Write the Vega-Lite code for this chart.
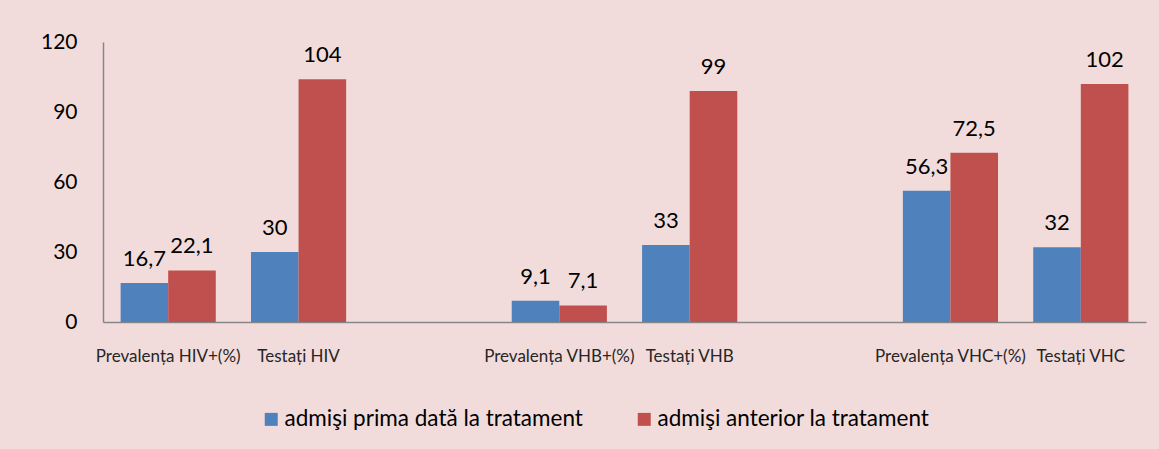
{
  "$schema": "https://vega.github.io/schema/vega-lite/v6.json",
  "width": 1043,
  "height": 280,
  "autosize": "none",
  "padding": {"left": 103, "top": 42, "right": 13, "bottom": 127},
  "background": "#f2dcdb",
  "config": {
    "view": {"stroke": null},
    "font": "Lato",
    "locale": {"number": {"decimal": ",", "thousands": ".", "grouping": [3], "currency": ["", " lei"]}}
  },
  "data": {
    "values": [
      {"cat": "Prevalența HIV+(%)", "series": "admişi prima dată la tratament", "value": 16.7},
      {"cat": "Prevalența HIV+(%)", "series": "admişi anterior la tratament", "value": 22.1},
      {"cat": "Testați HIV", "series": "admişi prima dată la tratament", "value": 30},
      {"cat": "Testați HIV", "series": "admişi anterior la tratament", "value": 104},
      {"cat": "Prevalența VHB+(%)", "series": "admişi prima dată la tratament", "value": 9.1},
      {"cat": "Prevalența VHB+(%)", "series": "admişi anterior la tratament", "value": 7.1},
      {"cat": "Testați VHB", "series": "admişi prima dată la tratament", "value": 33},
      {"cat": "Testați VHB", "series": "admişi anterior la tratament", "value": 99},
      {"cat": "Prevalența VHC+(%)", "series": "admişi prima dată la tratament", "value": 56.3},
      {"cat": "Prevalența VHC+(%)", "series": "admişi anterior la tratament", "value": 72.5},
      {"cat": "Testați VHC", "series": "admişi prima dată la tratament", "value": 32},
      {"cat": "Testați VHC", "series": "admişi anterior la tratament", "value": 102}
    ]
  },
  "encoding": {
    "x": {
      "field": "cat",
      "type": "nominal",
      "scale": {
        "domain": ["Prevalența HIV+(%)", "Testați HIV", "gap1", "Prevalența VHB+(%)", "Testați VHB", "gap2", "Prevalența VHC+(%)", "Testați VHC"],
        "paddingInner": 0.27,
        "paddingOuter": 0.135
      },
      "axis": {
        "title": null,
        "labelExpr": "indexof(['gap1','gap2'], datum.value) >= 0 ? '' : datum.value",
        "labelAngle": 0,
        "labelFontSize": 17,
        "labelColor": "#262626",
        "labelPadding": 26,
        "labelLimit": 300,
        "ticks": false,
        "domainColor": "#868686",
        "domainWidth": 1.5
      }
    },
    "xOffset": {
      "field": "series",
      "type": "nominal",
      "sort": ["admişi prima dată la tratament", "admişi anterior la tratament"],
      "scale": {"paddingInner": 0, "paddingOuter": 0}
    },
    "y": {
      "field": "value",
      "type": "quantitative",
      "scale": {"domain": [0, 120]},
      "axis": {
        "title": null,
        "values": [0, 30, 60, 90, 120],
        "grid": false,
        "ticks": false,
        "labelFontSize": 21,
        "labelColor": "#000000",
        "labelPadding": 26,
        "domainColor": "#868686",
        "domainWidth": 1.5
      }
    }
  },
  "layer": [
    {
      "mark": {"type": "bar"},
      "encoding": {
        "color": {
          "field": "series",
          "type": "nominal",
          "scale": {
            "domain": ["admişi prima dată la tratament", "admişi anterior la tratament"],
            "range": ["#4f81bd", "#c0504d"]
          },
          "legend": {
            "title": null,
            "orient": "none",
            "legendX": 157,
            "legendY": 366,
            "direction": "horizontal",
            "symbolType": "square",
            "symbolSize": 169,
            "symbolOpacity": 1,
            "symbolStrokeWidth": 0,
            "labelFontSize": 22.5,
            "labelColor": "#000000",
            "labelOffset": 2,
            "columnPadding": 50,
            "labelLimit": 400
          }
        }
      }
    },
    {
      "mark": {"type": "text", "baseline": "alphabetic", "dy": -17, "fontSize": 22, "color": "#000000"},
      "encoding": {
        "text": {"field": "value", "type": "quantitative", "format": "~r"}
      }
    }
  ]
}
